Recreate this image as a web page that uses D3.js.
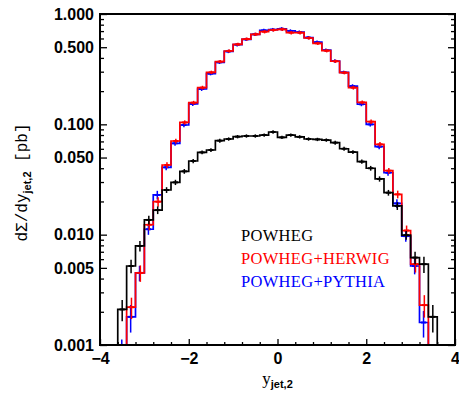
<!DOCTYPE html>
<html>
<head>
<meta charset="utf-8">
<script src="https://cdn.jsdelivr.net/npm/d3@7"></script>
<style>
  body { margin: 0; background: #fff; }
</style>
</head>
<body>
<div id="chart"></div>
<script>
// bin edges of the histogram (y_jet,2)
var binEdges = [-3.6, -3.4, -3.2, -3.0, -2.8, -2.6, -2.4, -2.2, -2.0, -1.8, -1.6, -1.4,
  -1.2, -1.0, -0.8, -0.6, -0.4, -0.2, 0.0, 0.2, 0.4, 0.6, 0.8, 1.0, 1.2, 1.4, 1.6,
  1.8, 2.0, 2.2, 2.4, 2.6, 2.8, 3.0, 3.2, 3.4, 3.6];

// dSigma/dy per bin [pb]
var powheg = [0.0021, 0.0052, 0.0079, 0.0136, 0.0167, 0.0254, 0.0298, 0.0375, 0.0465,
  0.0557, 0.0585, 0.0711, 0.0736, 0.0773, 0.0784, 0.0784, 0.0800, 0.0852, 0.0762,
  0.0800, 0.0770, 0.0736, 0.0730, 0.0720, 0.0682, 0.0601, 0.0561, 0.0459, 0.0400,
  0.0320, 0.0240, 0.0182, 0.0099, 0.0062, 0.0054, 0.0018];
var herwig = [0, 0.0022, 0.0045, 0.0123, 0.0199, 0.0428, 0.0706, 0.104, 0.157, 0.215,
  0.296, 0.370, 0.462, 0.531, 0.593, 0.655, 0.691, 0.716, 0.727, 0.677, 0.677, 0.606,
  0.542, 0.465, 0.373, 0.294, 0.215, 0.158, 0.1056, 0.0659, 0.038, 0.0232, 0.0109,
  0.0054, 0.0023, 0];
var pythia = [0.0007, 0.0018, 0.0045, 0.0112, 0.0229, 0.0408, 0.0673, 0.0986, 0.153,
  0.209, 0.288, 0.365, 0.458, 0.527, 0.590, 0.655, 0.711, 0.722, 0.735, 0.702, 0.685,
  0.612, 0.555, 0.470, 0.375, 0.296, 0.222, 0.152, 0.0999, 0.0627, 0.0364, 0.0192,
  0.0097, 0.0052, 0.0016, 0];

// relative errors per bin
var errPowheg = [0.22, 0.14, 0.11, 0.09, 0.08, 0.06, 0.055, 0.05, 0.045, 0.04, 0.04, 0.04,
  0.035, 0.035, 0.035, 0.035, 0.035, 0.035, 0.035, 0.035, 0.035, 0.035, 0.035, 0.035,
  0.04, 0.04, 0.04, 0.045, 0.05, 0.055, 0.06, 0.08, 0.09, 0.13, 0.17, 0.28];
var errHerwig = [0, 0.22, 0.17, 0.11, 0.10, 0.06, 0.05, 0.045, 0.04, 0.04, 0.035, 0.035,
  0.035, 0.035, 0.035, 0.035, 0.035, 0.035, 0.035, 0.035, 0.035, 0.035, 0.035, 0.035,
  0.035, 0.035, 0.04, 0.04, 0.045, 0.05, 0.06, 0.08, 0.11, 0.16, 0.23, 0];
var errPythia = [0.6, 0.28, 0.16, 0.11, 0.09, 0.06, 0.05, 0.045, 0.04, 0.04, 0.035, 0.035,
  0.035, 0.035, 0.035, 0.035, 0.035, 0.035, 0.035, 0.035, 0.035, 0.035, 0.035, 0.035,
  0.035, 0.035, 0.04, 0.04, 0.045, 0.05, 0.06, 0.09, 0.11, 0.16, 0.27, 0];

// axis ticks
var xTicks = [-4, -2, 0, 2, 4];
var yTicks = [0.001, 0.005, 0.01, 0.05, 0.1, 0.5, 1];
var yMinor = [0.002, 0.003, 0.004, 0.006, 0.007, 0.008, 0.009, 0.02, 0.03, 0.04, 0.06,
  0.07, 0.08, 0.09, 0.2, 0.3, 0.4, 0.6, 0.7, 0.8, 0.9];

var legendNames = ["POWHEG", "POWHEG+HERWIG", "POWHEG+PYTHIA"];
var colors = ["#000000", "#ff0000", "#0000ff"];

// set the dimensions and margins of the graph
var margin = {top: 14, right: 4, bottom: 49, left: 100},
    width = 459 - margin.left - margin.right,
    height = 394 - margin.top - margin.bottom;

var svg = d3.select("#chart")
  .append("svg")
    .attr("width", 459)
    .attr("height", 394)
  .append("g")
    .attr("transform", "translate(" + margin.left + "," + margin.top + ")");

var x = d3.scaleLinear().domain([-4, 4]).range([0, width]);
var y = d3.scaleLog().domain([0.001, 1]).range([height, 0]);

svg.append("clipPath").attr("id", "clip")
  .append("rect").attr("width", width).attr("height", height);

function yv(v) { return v > 0 ? y(v) : height + 30; }

// step outline of one histogram
function stepPoints(vals) {
  var pts = [[x(binEdges[0]), height + 30]];
  vals.forEach(function(v, i) {
    pts.push([x(binEdges[i]), yv(v)]);
    pts.push([x(binEdges[i + 1]), yv(v)]);
  });
  pts.push([x(binEdges[binEdges.length - 1]), height + 30]);
  return pts;
}

var plot = svg.append("g").attr("clip-path", "url(#clip)");

// draw order: blue, red, black
[[pythia, errPythia, colors[2], -0.4], [herwig, errHerwig, colors[1], 0.4], [powheg, errPowheg, colors[0], 0]]
  .forEach(function(s) {
    var vals = s[0], errs = s[1], col = s[2], off = s[3];
    plot.append("path")
      .attr("d", d3.line()(stepPoints(vals)))
      .attr("fill", "none")
      .attr("stroke", col)
      .attr("stroke-width", 1.7);

    var g = plot.append("g");
    vals.forEach(function(v, i) {
      if (!(v > 0)) return;
      var cx = x((binEdges[i] + binEdges[i + 1]) / 2) + off;
      g.append("line")
        .attr("x1", cx).attr("x2", cx)
        .attr("y1", y(v * (1 - errs[i]))).attr("y2", y(v * (1 + errs[i])))
        .attr("stroke", col).attr("stroke-width", 1.5);
      g.append("line")
        .attr("x1", cx - 2.6).attr("x2", cx + 2.6)
        .attr("y1", y(v)).attr("y2", y(v))
        .attr("stroke", col).attr("stroke-width", 2);
    });
  });

// axes
var tickFont = "bold 16px 'Liberation Sans', Arial, sans-serif";

var yAxis = svg.append("g")
  .call(d3.axisLeft(y).tickValues(yTicks).tickSize(-7).tickPadding(6)
    .tickFormat(d3.format(".3f")));
yAxis.selectAll("text").style("font", tickFont).attr("fill", "#000");
svg.append("g")
  .call(d3.axisLeft(y).tickValues(yMinor).tickSize(-4).tickFormat(""));

svg.append("g")
  .attr("transform", "translate(" + width + ",0)")
  .call(d3.axisRight(y).tickValues(yTicks).tickSize(-7).tickFormat(""));
svg.append("g")
  .attr("transform", "translate(" + width + ",0)")
  .call(d3.axisRight(y).tickValues(yMinor).tickSize(-4).tickFormat(""));

var xAxis = svg.append("g")
  .attr("transform", "translate(0," + height + ")")
  .call(d3.axisBottom(x).tickValues(xTicks).tickSize(-6).tickPadding(8)
    .tickFormat(d3.format("d")));
xAxis.selectAll("text").style("font", tickFont).attr("fill", "#000");
svg.append("g")
  .attr("transform", "translate(0," + height + ")")
  .call(d3.axisBottom(x)
    .tickValues(d3.range(-3.6, 4, 0.4).filter(function(d) { return Math.abs(d / 2 - Math.round(d / 2)) > 0.01; }))
    .tickSize(-3).tickFormat(""));

svg.selectAll(".domain").remove();
svg.selectAll(".tick line").attr("stroke", "#000").attr("stroke-width", 1.3);

// frame
svg.append("rect")
  .attr("width", width).attr("height", height)
  .attr("fill", "none").attr("stroke", "#000").attr("stroke-width", 2);

// axis titles
var xt = svg.append("text")
  .attr("x", x(0)).attr("y", height + 39)
  .attr("text-anchor", "middle")
  .style("font-family", "'Liberation Serif', serif").style("font-size", "17px");
xt.append("tspan").text("y");
xt.append("tspan").attr("dy", 4)
  .style("font", "bold 11px 'Liberation Sans', sans-serif").text("jet,2");

var yt = svg.append("text")
  .attr("transform", "translate(" + (-73) + "," + (height / 2 + 3) + ") rotate(-90)")
  .attr("text-anchor", "middle")
  .style("font-family", "'Liberation Mono', monospace").style("font-size", "16px");
yt.append("tspan").text("d\u03a3/dy");
yt.append("tspan").attr("dy", 4)
  .style("font", "bold 11px 'Liberation Sans', sans-serif").text("jet,2");
yt.append("tspan").attr("dy", -4).text(" [pb]");

// legend
legendNames.forEach(function(name, i) {
  svg.append("text")
    .attr("x", 141).attr("y", 227 + i * 23)
    .attr("fill", colors[i])
    .style("font-family", "'Liberation Serif', serif").style("font-size", "16.5px")
    .style("letter-spacing", "0.3px")
    .text(name);
});
</script>
</body>
</html>
